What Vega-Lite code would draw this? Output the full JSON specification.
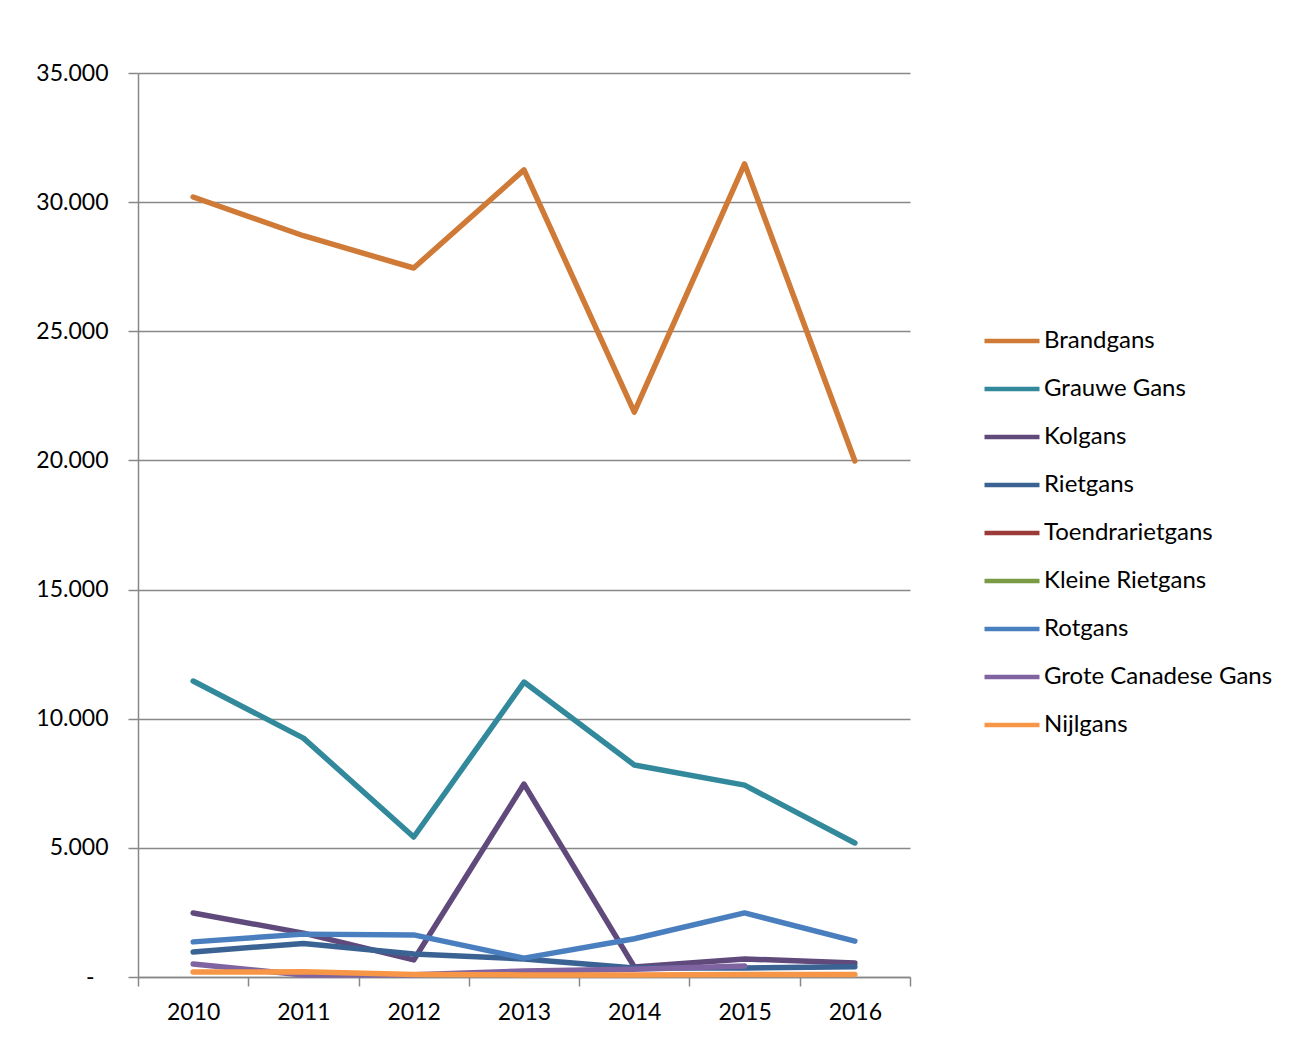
{
  "$schema": "https://vega.github.io/schema/vega-lite/v6.json",
  "autosize": {"type": "none"},
  "width": 772,
  "height": 904,
  "padding": {"left": 138, "top": 73, "right": 398, "bottom": 70},
  "background": "white",
  "config": {
    "font": "Lato",
    "view": {"stroke": null}
  },
  "data": {
    "values": [
      {"year": "2010", "soort": "Brandgans", "aantal": 30200},
      {"year": "2011", "soort": "Brandgans", "aantal": 28700},
      {"year": "2012", "soort": "Brandgans", "aantal": 27450},
      {"year": "2013", "soort": "Brandgans", "aantal": 31250},
      {"year": "2014", "soort": "Brandgans", "aantal": 21870},
      {"year": "2015", "soort": "Brandgans", "aantal": 31480},
      {"year": "2016", "soort": "Brandgans", "aantal": 19980},
      {"year": "2010", "soort": "Grauwe Gans", "aantal": 11460},
      {"year": "2011", "soort": "Grauwe Gans", "aantal": 9250},
      {"year": "2012", "soort": "Grauwe Gans", "aantal": 5420},
      {"year": "2013", "soort": "Grauwe Gans", "aantal": 11420},
      {"year": "2014", "soort": "Grauwe Gans", "aantal": 8210},
      {"year": "2015", "soort": "Grauwe Gans", "aantal": 7430},
      {"year": "2016", "soort": "Grauwe Gans", "aantal": 5190},
      {"year": "2010", "soort": "Kolgans", "aantal": 2480},
      {"year": "2011", "soort": "Kolgans", "aantal": 1700},
      {"year": "2012", "soort": "Kolgans", "aantal": 660},
      {"year": "2013", "soort": "Kolgans", "aantal": 7470},
      {"year": "2014", "soort": "Kolgans", "aantal": 390},
      {"year": "2015", "soort": "Kolgans", "aantal": 700},
      {"year": "2016", "soort": "Kolgans", "aantal": 540},
      {"year": "2010", "soort": "Rietgans", "aantal": 970},
      {"year": "2011", "soort": "Rietgans", "aantal": 1300},
      {"year": "2012", "soort": "Rietgans", "aantal": 890},
      {"year": "2013", "soort": "Rietgans", "aantal": 700},
      {"year": "2014", "soort": "Rietgans", "aantal": 350},
      {"year": "2015", "soort": "Rietgans", "aantal": 350},
      {"year": "2016", "soort": "Rietgans", "aantal": 400},
      {"year": "2010", "soort": "Rotgans", "aantal": 1360},
      {"year": "2011", "soort": "Rotgans", "aantal": 1660},
      {"year": "2012", "soort": "Rotgans", "aantal": 1630},
      {"year": "2013", "soort": "Rotgans", "aantal": 730},
      {"year": "2014", "soort": "Rotgans", "aantal": 1480},
      {"year": "2015", "soort": "Rotgans", "aantal": 2480},
      {"year": "2016", "soort": "Rotgans", "aantal": 1390},
      {"year": "2010", "soort": "Grote Canadese Gans", "aantal": 500},
      {"year": "2011", "soort": "Grote Canadese Gans", "aantal": 80},
      {"year": "2012", "soort": "Grote Canadese Gans", "aantal": 90},
      {"year": "2013", "soort": "Grote Canadese Gans", "aantal": 230},
      {"year": "2014", "soort": "Grote Canadese Gans", "aantal": 300},
      {"year": "2015", "soort": "Grote Canadese Gans", "aantal": 430},
      {"year": "2010", "soort": "Nijlgans", "aantal": 190},
      {"year": "2011", "soort": "Nijlgans", "aantal": 200},
      {"year": "2012", "soort": "Nijlgans", "aantal": 100},
      {"year": "2013", "soort": "Nijlgans", "aantal": 80},
      {"year": "2014", "soort": "Nijlgans", "aantal": 80},
      {"year": "2015", "soort": "Nijlgans", "aantal": 100},
      {"year": "2016", "soort": "Nijlgans", "aantal": 100}
    ]
  },
  "mark": {"type": "line", "strokeWidth": 5.5, "strokeCap": "round", "strokeJoin": "round"},
  "encoding": {
    "x": {
      "field": "year",
      "type": "ordinal",
      "bandPosition": 0.5,
      "scale": {"type": "band", "paddingInner": 0, "paddingOuter": 0},
      "axis": {
        "title": null,
        "labelAngle": 0,
        "labelFontSize": 23,
        "labelColor": "#000000",
        "labelPadding": 15,
        "tickBand": "extent",
        "tickSize": 9,
        "tickColor": "#888888",
        "tickWidth": 1.5,
        "domainColor": "#888888",
        "domainWidth": 1.5,
        "grid": false
      }
    },
    "y": {
      "field": "aantal",
      "type": "quantitative",
      "scale": {"domain": [0, 35000], "nice": false},
      "axis": {
        "title": null,
        "values": [0, 5000, 10000, 15000, 20000, 25000, 30000, 35000],
        "labelExpr": "datum.value == 0 ? '-' : replace(format(datum.value, ','), ',', '.')",
        "labelFontSize": 23,
        "labelColor": "#000000",
        "labelPadding": {"condition": {"test": "datum.value == 0", "value": 34}, "value": 20},
        "tickSize": 10,
        "tickColor": "#888888",
        "tickWidth": 1.5,
        "domainColor": "#888888",
        "domainWidth": 1.5,
        "grid": true,
        "gridColor": "#888888",
        "gridWidth": 1.5
      }
    },
    "color": {
      "field": "soort",
      "type": "nominal",
      "sort": ["Brandgans", "Grauwe Gans", "Kolgans", "Rietgans", "Toendrarietgans", "Kleine Rietgans", "Rotgans", "Grote Canadese Gans", "Nijlgans"],
      "scale": {
        "domain": ["Brandgans", "Grauwe Gans", "Kolgans", "Rietgans", "Toendrarietgans", "Kleine Rietgans", "Rotgans", "Grote Canadese Gans", "Nijlgans"],
        "range": ["#CF7B37", "#31899B", "#604A7B", "#3A6394", "#9B3B39", "#7A9A44", "#4A7FBF", "#8064A2", "#F79646"]
      },
      "legend": {
        "title": null,
        "orient": "none",
        "legendX": 844,
        "legendY": 238,
        "symbolType": "stroke",
        "symbolSize": 3025,
        "symbolStrokeWidth": 4.5,
        "labelFontSize": 24,
        "labelColor": "#000000",
        "labelOffset": 2,
        "rowPadding": 6,
        "labelLimit": 400
      }
    }
  }
}
